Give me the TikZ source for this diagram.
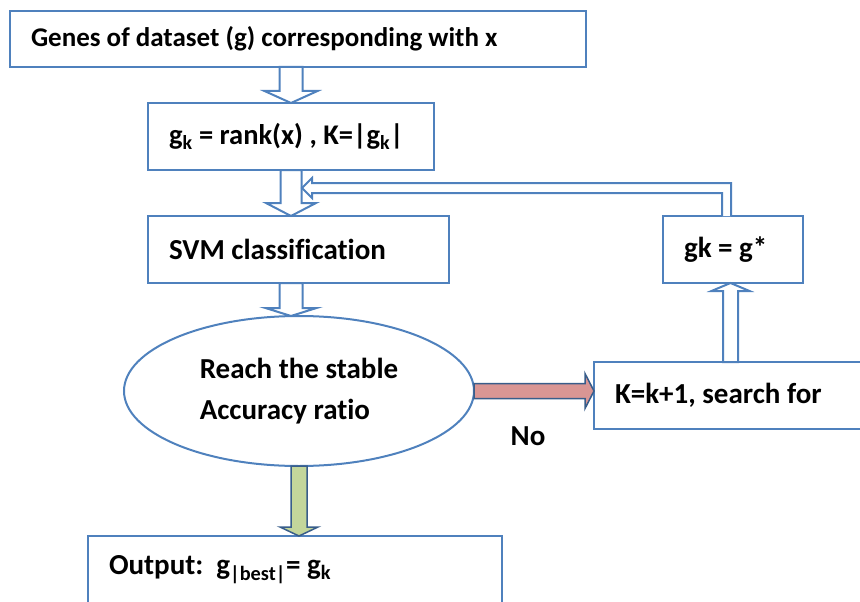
\documentclass[tikz,border=0pt]{standalone}
\usepackage{fontspec}
\setmainfont{Carlito}[Ligatures=NoCommon]
\usepackage{tikz}
\usetikzlibrary{shapes.geometric, calc, positioning}
\definecolor{boxBlue}{RGB}{79, 129, 189}
\definecolor{edgeBlue}{RGB}{56, 93, 138}
\definecolor{noRed}{RGB}{217, 150, 148}
\definecolor{yesGreen}{RGB}{195, 214, 155}

% block arrow: [style]{start}{tip}{shaft half width}{head half width}{head length}
\newcommand{\blockarrow}[6][]{%
  \draw[#1] let \p1=($(#3)!#6!(#2)$) in
    ($(#2)!#4!90:(#3)$) -- ($(\p1)!#4!90:(#3)$) -- ($(\p1)!#5!90:(#3)$) -- (#3)
    -- ($(\p1)!#5!-90:(#3)$) -- ($(\p1)!#4!-90:(#3)$) -- ($(#2)!#4!-90:(#3)$) -- cycle;
}

\begin{document}
\begin{tikzpicture}[
    x=1pt, y=-1pt,
    font=\fontsize{29pt}{41pt}\selectfont\bfseries,
    box/.style={rectangle, draw=boxBlue, line width=2pt, outer sep=0pt, inner xsep=21pt, inner ysep=0pt, minimum height=67pt, align=flush left},
    hollow/.style={draw=boxBlue, line width=2pt, fill=white, line join=miter},
    noarrow/.style={draw=edgeBlue, line width=1.5pt, fill=noRed},
    yesarrow/.style={draw=edgeBlue, line width=1.5pt, fill=yesGreen}
]
\useasboundingbox (0,0) rectangle (860,602);

% Main column
\node[box, minimum width=576pt, text width=534pt, minimum height=56pt, font=\fontsize{27pt}{41pt}\selectfont\bfseries] (genes) at (298,39) {Genes of dataset (g) corresponding with x};
\node[box, minimum width=286pt, text width=244pt, font=\fontsize{28.5pt}{41pt}\selectfont\bfseries] (rank) at (291,136.5) {\mbox{g\textsubscript{k} = rank(x) , K=|g\textsubscript{k}|}};
\node[box, minimum width=301pt, text width=259pt] (svm) at (298.5,249.5) {SVM classification};
\node[ellipse, draw=boxBlue, line width=2pt, outer sep=0pt, inner sep=0pt, minimum width=350pt, minimum height=150pt, align=left] (stable) at (299,391) {Reach the stable\\Accuracy ratio};
\node[box, minimum width=414pt, text width=372pt] (output) at (295,569.5) {Output:\hspace{0.45em}g\textsubscript{|best|}= g\textsubscript{k}};

% Loop column
\node[box, minimum width=273pt, text width=231pt] (search) at (730.5,395.5) {K=k+1, search for};
\node[box, minimum width=140pt, text width=98pt] (update) at (733,249.5) {gk = g*};
\node[anchor=base, inner sep=0pt] (no) at (528,445) {No};

% Arrows
\coordinate (a1s) at (rank.north |- genes.south);
\coordinate (a2e) at (rank.south |- svm.north);
\coordinate (a3s) at (rank.south |- svm.south);
\coordinate (a3e) at (rank.south |- stable.north);
\coordinate (a4e) at (stable.south |- output.north);
\coordinate (a5e) at (stable.east -| search.west);
\coordinate (a6e) at (search.north |- update.south);
\blockarrow[hollow]{a1s}{rank.north}{11.5pt}{26.5pt}{12pt}
\blockarrow[hollow]{rank.south}{a2e}{10.5pt}{25pt}{13pt}
\blockarrow[hollow]{a3s}{a3e}{11.5pt}{25.5pt}{8pt}
\blockarrow[yesarrow]{stable.south}{a4e}{8pt}{19pt}{9pt}
\blockarrow[noarrow]{stable.east}{a5e}{7.5pt}{17.5pt}{9pt}
\blockarrow[hollow]{search.north}{a6e}{7.5pt}{19pt}{8pt}
\draw[hollow] let \p1=(update.north), \p2=(rank.south) in
  (\x1-2pt,\y1) -- (\x1-2pt,\y2-13pt) -- (\x2+21pt,\y2-13pt) -- (\x2+21pt,\y2-8pt)
  -- (\x2+11pt,\y2-18pt) -- (\x2+21pt,\y2-28pt) -- (\x2+21pt,\y2-23pt)
  -- (\x1-11pt,\y2-23pt) -- (\x1-11pt,\y1);

\end{tikzpicture}
\end{document}
